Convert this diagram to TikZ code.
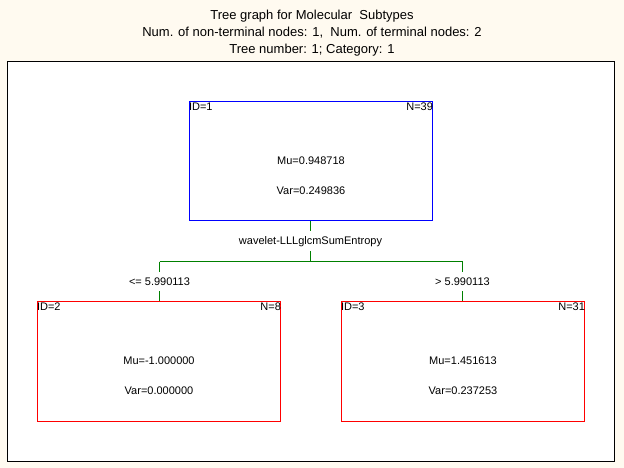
\documentclass[tikz,border=0pt]{standalone}
\usepackage{fontspec}
\setmainfont{Liberation Sans}
\definecolor{bgcream}{HTML}{FFFAF0}
\definecolor{nodeblue}{HTML}{0000FF}
\definecolor{nodered}{HTML}{FF0000}
\definecolor{edgegreen}{HTML}{008000}
\begin{document}
\begin{tikzpicture}[x=1pt,y=-1pt,
  every node/.style={font=\fontsize{11}{13}\selectfont, text=black},
  treebox/.style={draw, line width=1.3pt, fill=white, minimum width=243pt, inner sep=0pt},
  rootbox/.style={treebox, draw=nodeblue, minimum height=119pt},
  leafbox/.style={treebox, draw=nodered, minimum height=120pt},
  corner/.style={inner sep=0pt, text height=8pt, text depth=0pt},
  splitlab/.style={inner sep=0pt, minimum height=20pt, text height=8pt, text depth=1pt},
  condlab/.style={inner sep=0pt, minimum height=19pt, text height=8pt, text depth=1pt},
  greenline/.style={draw=edgegreen, line width=1.3pt},
  titletext/.style={anchor=base, inner sep=0pt, font=\fontsize{13}{15}\selectfont}
]
\useasboundingbox[fill=bgcream] (0,0) rectangle (624,468);
\draw[fill=white, line width=1.3pt] (7.5,61.5) rectangle (614.5,461.5);

\node[titletext] (t1) at (312,20) {Tree graph for Molecular\ \ Subtypes};
\node[titletext] (t2) at (312,36.6) {Num. of non-terminal nodes: 1,\ \ Num. of terminal nodes: 2};
\node[titletext] (t3) at (312,53.2) {Tree number: 1; Category: 1};

% nodes
\node[rootbox] (n1) at (311,161) {};
\node[leafbox] (n2) at (159,361.5) {};
\node[leafbox] (n3) at (463,361.5) {};

\node[corner, anchor=north west] (n1id) at ([yshift=-1.2pt]n1.north west) {ID=1};
\node[corner, anchor=north east] (n1n) at ([yshift=-1.2pt]n1.north east) {N=39};
\node (n1mu) at (n1.center) {Mu=0.948718};
\node (n1var) at ([yshift=-30pt]n1.center) {Var=0.249836};

\node[corner, anchor=north west] (n2id) at ([yshift=-1.2pt]n2.north west) {ID=2};
\node[corner, anchor=north east] (n2n) at ([yshift=-1.2pt]n2.north east) {N=8};
\node (n2mu) at ([yshift=0.5pt]n2.center) {Mu=-1.000000};
\node (n2var) at ([yshift=-29.5pt]n2.center) {Var=0.000000};

\node[corner, anchor=north west] (n3id) at ([yshift=-1.2pt]n3.north west) {ID=3};
\node[corner, anchor=north east] (n3n) at ([yshift=-1.2pt]n3.north east) {N=31};
\node (n3mu) at ([yshift=0.5pt]n3.center) {Mu=1.451613};
\node (n3var) at ([yshift=-29.5pt]n3.center) {Var=0.237253};

% labels
\node[splitlab] (split) at (310.5,241) {wavelet-LLLglcmSumEntropy};
\node[condlab] (condl) at (159.5,281.5) {<= 5.990113};
\node[condlab] (condr) at (462.5,281.5) {> 5.990113};

\coordinate (j) at (310.5,261.5);
\coordinate (jl) at (159.5,261.5);
\coordinate (jr) at (462.5,261.5);

% connectors
\draw[greenline] (n1.south -| split) -- (split.north);
\draw[greenline] (split.south) -- (j);
\draw[greenline] (jl) -- (jr);
\draw[greenline] (jl) -- (condl.north);
\draw[greenline] (condl.south) -- (condl |- n2.north);
\draw[greenline] (jr) -- (condr.north);
\draw[greenline] (condr.south) -- (condr |- n3.north);
\end{tikzpicture}
\end{document}
